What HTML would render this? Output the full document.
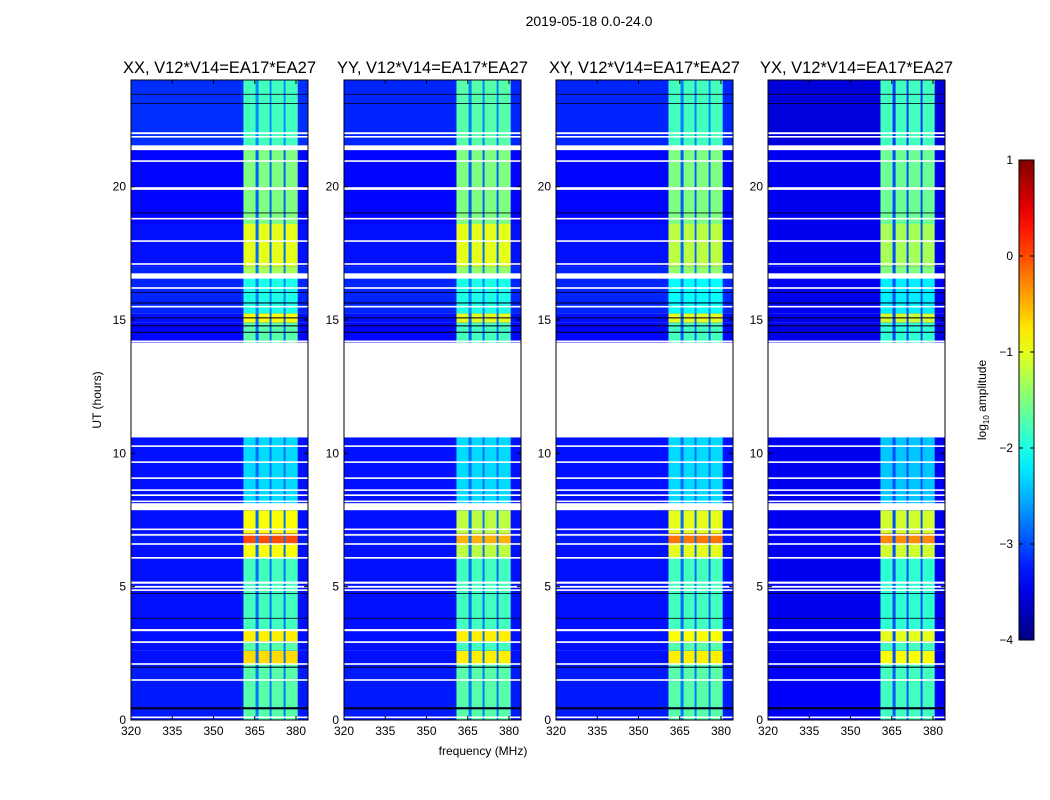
<!DOCTYPE html>
<html><head><meta charset="utf-8"><style>
body{margin:0;background:#fff;}
svg{display:block;font-family:"Liberation Sans",sans-serif;}
</style></head><body>
<div style="position:relative;width:1050px;height:800px;">
<svg id="fig" width="1050" height="800" viewBox="0 0 1050 800" style="position:absolute;left:0;top:0">
<text x="589" y="26" font-size="14" text-anchor="middle">2019-05-18 0.0-24.0</text>
<text x="483" y="755" font-size="12" text-anchor="middle">frequency (MHz)</text>
<text transform="translate(101,400) rotate(-90)" font-size="12" text-anchor="middle">UT (hours)</text>
<text transform="translate(986,400) rotate(-90)" font-size="12" text-anchor="middle">log<tspan font-size="8" dy="3">10</tspan><tspan dy="-3"> amplitude</tspan></text>
<g id="panels"></g>
<g id="cbar"></g>
</svg>
</div>
<script>
// time segments (hours)
const segLo = [0,2.1,2.6,2.95,3.35,6.1,6.6,7.0,7.87,14.15,14.9,15.25,16.65,17.0,18.6,21.4];
const segHi = [2.1,2.6,2.95,3.35,6.1,6.6,7.0,7.87,10.6,14.9,15.25,16.65,17.0,18.6,21.4,24];
// log10 amplitude of bright channels per panel
const brightXX = [-1.7,-0.7,-1.7,-0.8,-1.8,-0.9,0.0,-0.9,-2.3,-1.7,-0.9,-2.0,-1.3,-1.0,-1.5,-1.8];
const brightYY = [-1.7,-0.8,-1.8,-0.8,-1.8,-1.2,-0.5,-1.2,-2.3,-1.8,-1.0,-2.0,-1.4,-1.0,-1.5,-1.7];
const brightXY = [-1.7,-0.8,-1.7,-0.9,-1.8,-1.0,-0.2,-1.0,-2.3,-1.8,-1.0,-2.1,-1.4,-1.2,-1.5,-1.8];
const brightYX = [-1.8,-0.9,-1.8,-1.0,-1.9,-1.1,-0.3,-1.1,-2.4,-1.9,-1.1,-2.2,-1.5,-1.3,-1.6,-1.8];
// background log10 amplitude per panel
const bgXX = [-3.25,-3.3,-3.3,-3.3,-3.3,-3.3,-3.25,-3.3,-3.3,-3.35,-3.3,-3.2,-3.2,-3.3,-3.35,-3.15];
const bgYY = [-3.25,-3.3,-3.3,-3.3,-3.3,-3.3,-3.25,-3.3,-3.3,-3.35,-3.3,-3.2,-3.2,-3.3,-3.35,-3.2];
const bgXY = [-3.25,-3.3,-3.3,-3.3,-3.3,-3.3,-3.25,-3.3,-3.3,-3.35,-3.3,-3.2,-3.2,-3.3,-3.35,-3.2];
const bgYX = [-3.4,-3.45,-3.45,-3.45,-3.45,-3.45,-3.4,-3.45,-3.45,-3.5,-3.45,-3.45,-3.45,-3.45,-3.45,-3.55];
// bright channel bands (MHz)
const chLo = [360.9,366.4,371.1,376.2];
const chHi = [365.3,370.4,375.5,380.6];
// flagged (white) time ranges
const flagLo = [0.07,1.47,2.07,2.89,3.33,4.84,4.96,5.11,6.05,6.57,6.91,7.12,7.87,8.17,8.40,8.59,9.04,9.64,10.24,10.6,14.17,15.47,16.17,16.55,17.07,17.93,18.77,19.88,20.93,21.37,21.84,21.97];
const flagHi = [0.13,1.53,2.13,2.95,3.41,4.90,5.03,5.19,6.11,6.63,6.97,7.18,8.13,8.23,8.46,8.65,9.10,9.70,10.30,14.15,14.23,15.53,16.23,16.75,17.13,17.99,18.83,19.98,20.99,21.55,21.90,22.04];
// near-zero (black) time ranges
const darkLo = [0.40,1.96,3.80,4.73,14.52,14.76,15.06,15.62,16.02,19.00,23.10,23.45];
const darkHi = [0.48,2.00,3.83,4.76,14.56,14.80,15.10,15.66,16.05,19.03,23.13,23.48];
const panelTitles = ["XX, V12*V14=EA17*EA27","YY, V12*V14=EA17*EA27","XY, V12*V14=EA17*EA27","YX, V12*V14=EA17*EA27"];
const xTicks = [320,335,350,365,380];
const yTicks = [0,5,10,15,20];
const cTicks = [1,0,-1,-2,-3,-4];

const NS="http://www.w3.org/2000/svg";
const panelX=[131,344,556,768], PW=177, PT=80, PB=720;
const brights=[brightXX,brightYY,brightXY,brightYX], bgs=[bgXX,bgYY,bgXY,bgYX];
function jet(v){const t=Math.max(0,Math.min(1,(v+4)/5));const c=x=>Math.round(255*Math.max(0,Math.min(1,1.5-Math.abs(4*t-x))));return `rgb(${c(3)},${c(2)},${c(1)})`;}
function mk(tag,attrs,parent){const e=document.createElementNS(NS,tag);for(const k in attrs)e.setAttribute(k,attrs[k]);parent.appendChild(e);return e;}
const yS=h=>PB-(h/24)*(PB-PT);
const panels=document.getElementById('panels');
for(let p=0;p<4;p++){
  const x0=panelX[p]; const xS=f=>x0+(f-320)*2.75;
  const g=mk('g',{},panels);
  
  
  const cp=mk('clipPath',{id:'cp'+p},g); mk('rect',{x:x0,y:PT,width:PW,height:PB-PT},cp);
  const hm=mk('g',{'clip-path':`url(#cp${p})`},g);
  
  
  for(let i=0;i<segLo.length;i++){
    const y1=yS(segHi[i]), y2=yS(segLo[i]);
    const r=mk('rect',{x:x0,y:y1,width:PW,height:y2-y1,fill:jet(bgs[p][i])},hm);
    
    
    const gap=mk('rect',{x:xS(chLo[0]),y:y1,width:xS(chHi[3])-xS(chLo[0]),height:y2-y1,fill:jet(bgs[p][i]+0.45)},hm);
    
    
    for(let c=0;c<chLo.length;c++){
      const b=mk('rect',{x:xS(chLo[c]),y:y1,width:xS(chHi[c])-xS(chLo[c]),height:y2-y1,fill:jet(brights[p][i])},hm);
      
      
    }
  }
  for(let i=0;i<darkLo.length;i++){
    const r=mk('rect',{x:x0,y:yS(darkHi[i]),width:PW,height:yS(darkLo[i])-yS(darkHi[i]),fill:'#000020'},hm);
    
    
  }
  for(let i=0;i<flagLo.length;i++){
    const r=mk('rect',{x:x0,y:yS(flagHi[i]),width:PW,height:yS(flagLo[i])-yS(flagHi[i]),fill:'#fff'},hm);
    
    
  }
  const fr=mk('rect',{x:x0,y:PT,width:PW,height:PB-PT,fill:'none',stroke:'#000','stroke-width':1},g);
  
  
  const t=mk('text',{x:x0+PW/2,y:PT-7,'font-size':16.5,'text-anchor':'middle'},g); t.textContent=panelTitles[p];
  
  
  xTicks.forEach(v=>{const x=xS(v);
    mk('line',{x1:x,x2:x,y1:PB,y2:PB-4,stroke:'#000'},g);mk('line',{x1:x,x2:x,y1:PT,y2:PT+4,stroke:'#000'},g);
    const l=mk('text',{x:x,y:PB+15,'font-size':12,'text-anchor':'middle'},g);l.textContent=v;
    
    });
  yTicks.forEach(v=>{const y=yS(v);
    mk('line',{x1:x0,x2:x0+4,y1:y,y2:y,stroke:'#000'},g);mk('line',{x1:x0+PW,x2:x0+PW-4,y1:y,y2:y,stroke:'#000'},g);
    const l=mk('text',{x:x0-5,y:y+4,'font-size':12,'text-anchor':'end'},g);l.textContent=v;
    
    });
}
// colorbar
const cb=document.getElementById('cbar');


const CT=160,CB=640,CX=1019,CW=15;
const cS=v=>CB-(v+4)/5*(CB-CT);
const defs=mk('defs',{},cb);const lg=mk('linearGradient',{id:'jetg',x1:0,y1:1,x2:0,y2:0},defs);
for(let i=0;i<=20;i++){mk('stop',{offset:i/20,'stop-color':jet(-4+5*i/20)},lg);}
mk('rect',{x:CX,y:CT,width:CW,height:CB-CT,fill:'url(#jetg)',stroke:'#000'},cb);
cTicks.forEach(v=>{const y=cS(v);
  mk('line',{x1:CX,x2:CX+4,y1:y,y2:y,stroke:'#000'},cb);mk('line',{x1:CX+CW,x2:CX+CW-4,y1:y,y2:y,stroke:'#000'},cb);
  const l=mk('text',{x:CX-6,y:y+4,'font-size':12,'text-anchor':'end'},cb);l.textContent=(v<0?'\u2212'+(-v):v);
  
  });
</script>
</body></html>
